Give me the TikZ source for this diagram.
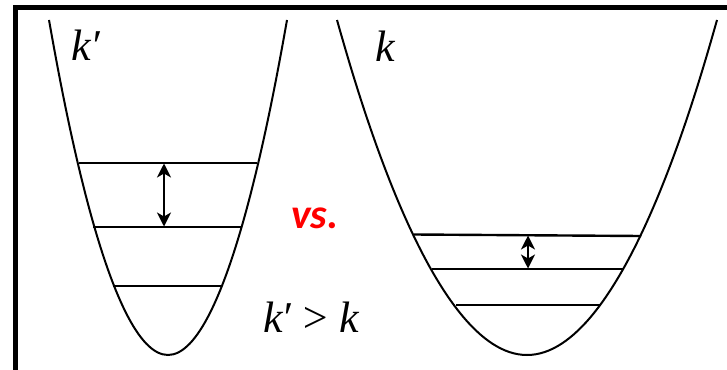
\documentclass[tikz,border=0pt]{standalone}
\usepackage{fontspec}
\setmainfont{Liberation Serif}
\newfontfamily\vsfont{Carlito}
\usepackage{xcolor}
\usetikzlibrary{arrows.meta,positioning}
\definecolor{Ink}{HTML}{000000}
\definecolor{VsRed}{HTML}{FF0000}

\tikzset{
  well/.style={line width=2pt,Ink},
  level/.style={line width=2.4pt,Ink},
  gap/.style={{Stealth[length=14pt,width=14pt,inset=4pt]}-{Stealth[length=14pt,width=14pt,inset=4pt]},line width=1.8pt,Ink},
  sym/.style={font=\fontsize{44}{48}\selectfont\itshape,inner sep=0pt}
}

\begin{document}
\begin{tikzpicture}[x=1pt,y=-1pt]
  \useasboundingbox (0,0) rectangle (727,369);
  % frame (only top and left show)
  \draw[line width=4.5pt,Ink,line cap=rect] (15.5,369) -- (15.5,7.5) -- (727,7.5);

  % stiff well k'
  \draw[well] (49,20) parabola bend (168,355) (287,20);
  \draw[level] (79,163) -- (257,163);
  \draw[level] (93,227) -- (241,227);
  \draw[level] (113,286) -- (221,286);

  % soft well k
  \draw[well] (337,20) parabola bend (527,355) (717,20);
  \draw[level] (414,234.5) -- (641,236);
  \draw[level] (432,269) -- (623,269);
  \draw[level] (456,305) -- (601,305);

  % spacings
  \coordinate (kpTop) at (164,163.5);
  \coordinate (kpMid) at (164,226.5);
  \coordinate (kTop) at (528,235.5);
  \coordinate (kMid) at (528,268.5);
  \draw[gap] (kpTop) -- (kpMid);
  \draw[gap] (kTop) -- (kMid);

  % labels
  \node[sym] (lblKp) at (86,45) {k\kern-1pt′};
  \node[sym] (lblK) at (385,46) {k};
  \node[font=\vsfont\bfseries\itshape\fontsize{42}{46}\selectfont,text=VsRed,inner sep=0pt] (lblVs) at (315,218) {vs.};
  \node[sym] (lblCmp) at (311,317) {k\kern-1pt′\kern-2pt\ >\kern-2pt\ k};
\end{tikzpicture}
\end{document}
